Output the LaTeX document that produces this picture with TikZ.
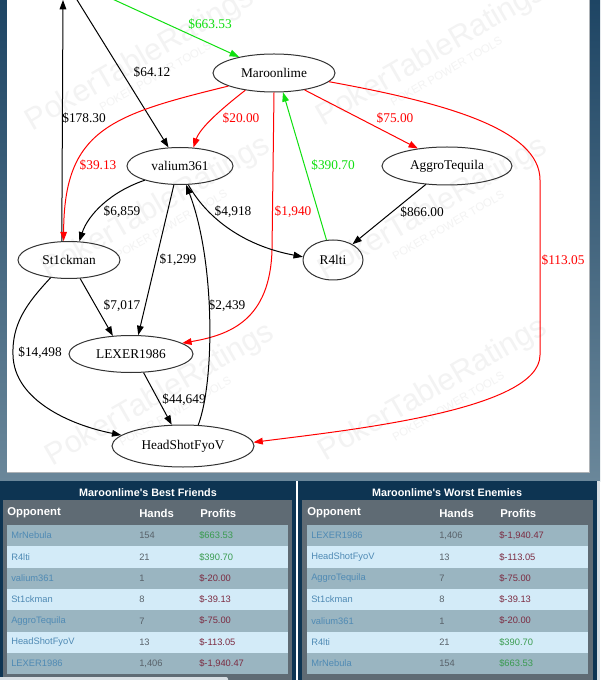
\documentclass[tikz,border=0pt]{standalone}
\usepackage{fontspec}
\setmainfont{Liberation Serif}
\newfontfamily\tabfont{Liberation Sans}
\newfontfamily\wmfont{Liberation Sans}
\usetikzlibrary{shapes.geometric,arrows.meta,calc}

\definecolor{bgtop}{HTML}{1E4564}
\definecolor{bgbot}{HTML}{6A879A}
\definecolor{navy}{HTML}{0D3452}
\definecolor{panelgray}{HTML}{5F6B74}
\definecolor{rowA}{HTML}{9AB5C1}
\definecolor{rowB}{HTML}{D3EBF8}
\definecolor{namec}{HTML}{4F8AB4}
\definecolor{handc}{HTML}{59626A}
\definecolor{posc}{HTML}{3A9B50}
\definecolor{negc}{HTML}{7C2C42}
\definecolor{gvred}{HTML}{FF0000}
\definecolor{gvgreen}{HTML}{10E010}
\definecolor{wmc}{HTML}{F3F3F3}
\definecolor{sidegray}{HTML}{D8DFE4}

\tikzset{
  gnode/.style={ellipse, draw=black!80, line width=0.75pt, inner sep=0pt,
    font=\fontsize{10}{12}\selectfont},
  edge/.style={line width=0.75pt, -{Triangle[length=7pt,width=5pt]}},
  elab/.style={font=\fontsize{10}{12}\selectfont, inner sep=0pt},
  wmark/.style={text=wmc, font=\wmfont\fontsize{23}{26}\selectfont, inner sep=0pt},
  wmsub/.style={text=wmc, font=\wmfont\fontsize{8.5}{9}\selectfont, inner sep=0pt},
  ttl/.style={text=white, font=\tabfont\bfseries\fontsize{8.1}{10}\selectfont, inner sep=0pt},
  hdr/.style={text=white, anchor=west, font=\tabfont\bfseries\fontsize{8.5}{10}\selectfont, inner sep=0pt},
  cell/.style={anchor=west, font=\tabfont\fontsize{7}{8}\selectfont, inner sep=0pt},
}

\begin{document}
\begin{tikzpicture}[x=0.75pt,y=-0.75pt]
\useasboundingbox (0,0) rectangle (600,680);
\clip (0,0) rectangle (600,680);

% background and graph panel
\shade[top color=bgtop,bottom color=bgbot] (0,0) rectangle (600,481);
\fill[white] (7,0) rectangle (589,472);
\draw[color=sidegray!80!black, line width=0.75pt] (7,472.5) -- (589.5,472.5) -- (589.5,0);

% watermark
\foreach \wx/\wy [count=\k] in {140/60, 431/55, 156/208, 433/209, 160/395, 433/390}{
  \begin{scope}[shift={(\wx,\wy)}, rotate=30, transform shape]
    \node[wmark] (wm\k) at (0,0) {PokerTableRatings};
    \node[wmsub] (ws\k) at (5,22) {POKER  POWER  TOOLS};
  \end{scope}
}

% graph nodes
\node[gnode, minimum width=91.5pt, minimum height=28.5pt] (maroon) at (274,73) {Maroonlime};
\node[gnode, minimum width=79.5pt, minimum height=27.75pt] (valium) at (180,166) {valium361};
\node[gnode, minimum width=97.5pt, minimum height=28.5pt] (aggro) at (447,166) {AggroTequila};
\node[gnode, minimum width=76.5pt, minimum height=27.75pt] (stick) at (69,260) {St1ckman};
\node[gnode, minimum width=45pt, minimum height=30pt] (r4) at (333,260) {R4lti};
\node[gnode, minimum width=93pt, minimum height=27.75pt] (lexer) at (131,354) {LEXER1986};
\node[gnode, minimum width=106.5pt, minimum height=31.5pt] (head) at (183,446) {HeadShotFyoV};

% free ends toward the off-picture MrNebula
\coordinate (nebA) at (108,-3);
\coordinate (nebB) at (74,-5);
\coordinate (nebC) at (63,0);

% edges
\draw[edge, gvgreen] (nebA) -- (maroon);
\draw[edge] (nebB) -- (valium);
\draw[edge] (stick.111) -- (nebC);
\draw[edge, gvred] (maroon.196) .. controls (110,115) and (64,130) .. (stick.106);
\draw[edge, gvred] (maroon.211) .. controls (220,110) and (200,128) .. (valium.54);
\draw[edge, gvred] (maroon.331) -- (aggro.149);
\draw[edge, gvgreen] (r4.108) -- (maroon.295);
\draw[edge, gvred] (maroon.270) -- (272,250) .. controls (270,320) and (230,335) .. (lexer.12);
\draw[edge, gvred] (maroon.351) .. controls (440,102) and (540,128) .. (540,180) -- (540,355) .. controls (540,410) and (350,430) .. (head.3);
\draw[edge] (aggro.221) -- (r4.39);
\draw[edge] (valium.202) .. controls (110,192) and (88,215) .. (stick.61);
\draw[edge] (valium.294) .. controls (205,215) and (240,245) .. (r4.174);
\draw[edge] (valium.252) -- (lexer.69);
\draw[edge] (head.54) .. controls (215,380) and (215,260) .. (valium.288);
\draw[edge] (stick.301) -- (lexer.135);
\draw[edge] (stick.224) .. controls (25,305) and (12,325) .. (13,355) .. controls (14,400) and (70,425) .. (head.170);
\draw[edge] (lexer.304) -- (head.118);

% edge labels
\node[elab, text=gvgreen] (l1) at (210,24) {\$663.53};
\node[elab] (l2) at (152,72) {\$64.12};
\node[elab] (l3) at (84,118) {\$178.30};
\node[elab, text=gvred] (l4) at (98,165) {\$39.13};
\node[elab, text=gvred] (l5) at (241,118) {\$20.00};
\node[elab, text=gvred] (l6) at (395,118) {\$75.00};
\node[elab, text=gvgreen] (l7) at (333,165) {\$390.70};
\node[elab, text=gvred] (l8) at (293,212) {\$1,940};
\node[elab, text=gvred] (l9) at (563,260) {\$113.05};
\node[elab] (l10) at (422,212) {\$866.00};
\node[elab] (l11) at (122,212) {\$6,859};
\node[elab] (l12) at (233,212) {\$4,918};
\node[elab] (l13) at (178,260) {\$1,299};
\node[elab] (l14) at (227,306) {\$2,439};
\node[elab] (l15) at (122,306) {\$7,017};
\node[elab] (l16) at (40,353) {\$14,498};
\node[elab] (l17) at (184,400) {\$44,649};

% tables
\fill[white] (296,481) rectangle (298,680);
\fill[sidegray] (597,481) rectangle (600,680);
\fill[navy] (0,481) rectangle (296,680);
\fill[navy] (298,481) rectangle (597,680);
\fill[panelgray] (3,500) rectangle (292,680);
\fill[panelgray] (302,500) rectangle (593,680);
\fill[sidegray, rounded corners=1.5pt] (-2,677) rectangle (228,683);

\node[ttl] (t1) at (148,492.5) {Maroonlime's Best Friends};
\node[ttl] (t2) at (447,492.5) {Maroonlime's Worst Enemies};

\node[hdr] (h1a) at (7,513) {Opponent};
\node[hdr] (h1b) at (139,513) {Hands};
\node[hdr] (h1c) at (200,513) {Profits};
\node[hdr] (h2a) at (307,513) {Opponent};
\node[hdr] (h2b) at (439,513) {Hands};
\node[hdr] (h2c) at (500,513) {Profits};

\foreach \n/\h/\p/\c [count=\i] in {MrNebula/154/{\$663.53}/posc, R4lti/21/{\$390.70}/posc, valium361/1/{\$-20.00}/negc, St1ckman/8/{\$-39.13}/negc, AggroTequila/7/{\$-75.00}/negc, HeadShotFyoV/13/{\$-113.05}/negc, LEXER1986/{1,406}/{\$-1,940.47}/negc}{
  \pgfmathsetmacro{\yt}{525+21.3*(\i-1)}
  \pgfmathsetmacro{\yc}{\yt+10.65}
  \ifodd\i \def\rc{rowA}\else\def\rc{rowB}\fi
  \fill[\rc] (7,\yt) rectangle (288,\yt+21.3);
  \node[cell, text=namec] (ln\i) at (11,\yc) {\n};
  \node[cell, text=handc] (lh\i) at (139,\yc) {\h};
  \node[cell, text=\c] (lp\i) at (199,\yc) {\p};
}

\foreach \n/\h/\p/\c [count=\i] in {LEXER1986/{1,406}/{\$-1,940.47}/negc, HeadShotFyoV/13/{\$-113.05}/negc, AggroTequila/7/{\$-75.00}/negc, St1ckman/8/{\$-39.13}/negc, valium361/1/{\$-20.00}/negc, R4lti/21/{\$390.70}/posc, MrNebula/154/{\$663.53}/posc}{
  \pgfmathsetmacro{\yt}{525+21.3*(\i-1)}
  \pgfmathsetmacro{\yc}{\yt+10.65}
  \ifodd\i \def\rc{rowA}\else\def\rc{rowB}\fi
  \fill[\rc] (307,\yt) rectangle (588,\yt+21.3);
  \node[cell, text=namec] (rn\i) at (311,\yc) {\n};
  \node[cell, text=handc] (rh\i) at (439,\yc) {\h};
  \node[cell, text=\c] (rp\i) at (499,\yc) {\p};
}
\end{tikzpicture}
\end{document}
